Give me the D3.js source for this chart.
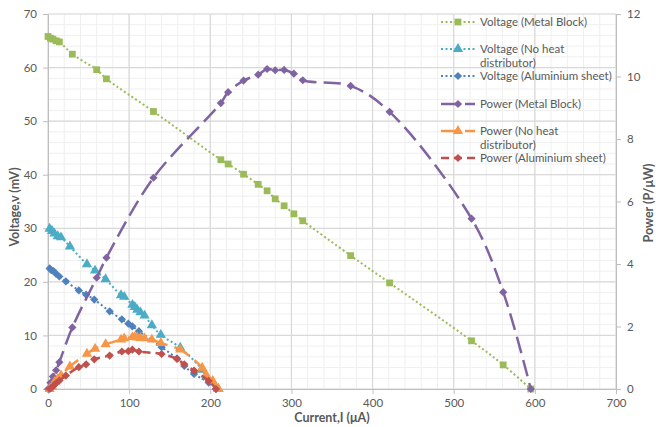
<!DOCTYPE html>
<html>
<head>
<meta charset="utf-8">
<script src="https://cdn.jsdelivr.net/npm/d3@7"></script>
<style>
  body { margin: 0; background: #fff; }
  svg text { font-family: Lato, "Open Sans", sans-serif; fill: #595959; }
</style>
</head>
<body>
<svg id="chart" width="656" height="427"></svg>
<script>
// Metal block
var metalI = [0, 3, 6, 10, 14, 30, 60, 72, 130, 213, 222, 241, 259, 270, 280, 291, 303, 314, 373, 421, 522, 561, 595];
var metalV = [65.8, 65.5, 65.3, 65.0, 64.8, 62.5, 59.6, 57.9, 51.8, 42.8, 42.0, 40.1, 38.2, 37.0, 35.5, 34.2, 32.7, 31.4, 24.9, 19.8, 9.0, 4.5, 0];
var metalP = [0, 0.2, 0.4, 0.6, 0.86, 1.97, 3.56, 4.2, 6.76, 9.15, 9.5, 9.87, 10.06, 10.24, 10.2, 10.21, 10.09, 9.88, 9.7, 8.87, 5.45, 3.1, 0];

// No heat distributor
var noHeatI = [2, 5, 8, 12, 16, 27, 48, 58, 71, 90, 94, 104, 107, 110, 114, 119, 128, 139, 163, 190, 195, 203, 210];
var noHeatV = [29.9, 29.5, 29.0, 28.5, 28.3, 26.6, 23.3, 22.1, 20.5, 17.5, 17.2, 15.7, 15.3, 14.8, 14.3, 13.7, 11.9, 10.1, 7.7, 3.6, 2.3, 1.3, 0];
var noHeatP = [0, 0.08, 0.22, 0.33, 0.43, 0.72, 1.13, 1.29, 1.43, 1.58, 1.62, 1.66, 1.66, 1.65, 1.63, 1.62, 1.58, 1.47, 1.26, 0.68, 0.45, 0.26, 0];

// Aluminium sheet
var aluI = [2, 4, 7, 10, 14, 22, 38, 47, 57, 76, 91, 99, 104, 112, 140, 159, 168, 180, 198, 207];
var aluV = [22.5, 22.2, 22.0, 21.5, 21.0, 20.1, 18.4, 17.6, 16.7, 14.5, 13.0, 12.2, 11.7, 10.8, 7.8, 5.7, 4.3, 2.8, 1.2, 0];
var aluP = [0, 0.04, 0.11, 0.19, 0.27, 0.43, 0.70, 0.79, 0.95, 1.07, 1.20, 1.21, 1.26, 1.20, 1.12, 0.96, 0.79, 0.59, 0.26, 0];

var xTicks = [0, 100, 200, 300, 400, 500, 600, 700];
var yLeftTicks = [0, 10, 20, 30, 40, 50, 60, 70];
var yRightTicks = [0, 2, 4, 6, 8, 10, 12];

var svg = d3.select("#chart");
var x = d3.scaleLinear().domain([0, 700]).range([48, 616]);
var yL = d3.scaleLinear().domain([0, 70]).range([389, 14]);
var yR = d3.scaleLinear().domain([0, 12]).range([389, 14]);

// gridlines
var grid = svg.append("g");
grid.selectAll(".vmin").data(d3.range(0, 701, 20)).enter().append("line")
  .attr("x1", function(d) { return x(d); }).attr("x2", function(d) { return x(d); })
  .attr("y1", yL(0)).attr("y2", yL(70))
  .attr("stroke", "#efefef").attr("stroke-width", 1);
grid.selectAll(".hmin").data(d3.range(0, 71, 2)).enter().append("line")
  .attr("y1", function(d) { return yL(d); }).attr("y2", function(d) { return yL(d); })
  .attr("x1", x(0)).attr("x2", x(700))
  .attr("stroke", "#efefef").attr("stroke-width", 1);
grid.selectAll(".vmaj").data(xTicks).enter().append("line")
  .attr("x1", function(d) { return x(d); }).attr("x2", function(d) { return x(d); })
  .attr("y1", yL(0)).attr("y2", yL(70))
  .attr("stroke", "#d9d9d9").attr("stroke-width", 1.2);
grid.selectAll(".hmaj").data(yLeftTicks).enter().append("line")
  .attr("y1", function(d) { return yL(d); }).attr("y2", function(d) { return yL(d); })
  .attr("x1", x(0)).attr("x2", x(700))
  .attr("stroke", "#d9d9d9").attr("stroke-width", 1.2);

// axes
function styleAxis(g) {
  g.selectAll("path").attr("stroke", "#bfbfbf");
  g.selectAll("line").attr("stroke", "#bfbfbf");
  g.selectAll("text").style("font-size", "11.5px").attr("fill", "#595959");
}
svg.append("g").attr("transform", "translate(0," + yL(0) + ")")
  .call(d3.axisBottom(x).tickValues(xTicks).tickSize(5).tickSizeOuter(0).tickPadding(5))
  .call(styleAxis);
svg.append("g").attr("transform", "translate(" + x(0) + ",0)")
  .call(d3.axisLeft(yL).tickValues(yLeftTicks).tickSize(5).tickSizeOuter(0).tickPadding(6))
  .call(styleAxis);
svg.append("g").attr("transform", "translate(" + x(700) + ",0)")
  .call(d3.axisRight(yR).tickValues(yRightTicks).tickSize(5).tickSizeOuter(0).tickPadding(6))
  .call(styleAxis);

// axis titles
svg.append("text").attr("x", 332).attr("y", 422).attr("text-anchor", "middle")
  .style("font-size", "12.5px").style("font-weight", "bold").text("Current,I (\u03bcA)");
svg.append("text").attr("transform", "translate(19,207) rotate(-90)").attr("text-anchor", "middle")
  .style("font-size", "12.5px").style("font-weight", "bold").text("Voltage,v (mV)");
svg.append("text").attr("transform", "translate(653,203) rotate(-90)").attr("text-anchor", "middle")
  .style("font-size", "12.5px").style("font-weight", "bold").text("Power (P/\u03bcW)");

var series = [
  { name: ["Voltage (Metal Block)"], I: metalI, v: metalV, y: yL, color: "#9bbb59", dash: "2,2.5", width: 2, marker: "square" },
  { name: ["Voltage (No heat", "distributor)"], I: noHeatI, v: noHeatV, y: yL, color: "#4bacc6", dash: "2,2.5", width: 2, marker: "triangle" },
  { name: ["Voltage (Aluminium sheet)"], I: aluI, v: aluV, y: yL, color: "#4f81bd", dash: "2,2.5", width: 2, marker: "diamond" },
  { name: ["Power (Metal Block)"], I: metalI, v: metalP, y: yR, color: "#8064a2", dash: "17,7", width: 2.5, marker: "diamond" },
  { name: ["Power (No heat", "distributor)"], I: noHeatI, v: noHeatP, y: yR, color: "#f79646", dash: "17,7", width: 2.5, marker: "triangle" },
  { name: ["Power (Aluminium sheet)"], I: aluI, v: aluP, y: yR, color: "#c0504d", dash: "8,5", width: 2.5, marker: "diamond" }
];

var symbols = {
  square: { gen: d3.symbol().type(d3.symbolSquare).size(46), rot: 0 },
  triangle: { gen: d3.symbol().type(d3.symbolTriangle).size(46), rot: 0 },
  diamond: { gen: d3.symbol().type(d3.symbolSquare).size(34), rot: 45 }
};

function markerTransform(px, py, m) {
  return "translate(" + px + "," + py + ") rotate(" + symbols[m].rot + ")";
}

var plot = svg.append("g");
series.forEach(function(s) {
  var pts = s.I.map(function(d, i) { return [d, s.v[i]]; });
  var line = d3.line()
    .x(function(d) { return x(d[0]); })
    .y(function(d) { return s.y(d[1]); })
    .curve(d3.curveCatmullRom.alpha(0.5));
  var g = plot.append("g");
  g.append("path").attr("d", line(pts))
    .attr("fill", "none").attr("stroke", s.color)
    .attr("stroke-width", s.width).attr("stroke-dasharray", s.dash);
  g.selectAll("path.m").data(pts).enter().append("path").attr("class", "m")
    .attr("d", symbols[s.marker].gen)
    .attr("transform", function(d) { return markerTransform(x(d[0]), s.y(d[1]), s.marker); })
    .attr("fill", s.color);
});

// legend
var legendY = [22, 49, 76, 104, 131, 158];
var legend = svg.append("g");
series.forEach(function(s, i) {
  var g = legend.append("g").attr("transform", "translate(0," + legendY[i] + ")");
  g.append("line").attr("x1", 441).attr("x2", 475).attr("y1", 0).attr("y2", 0)
    .attr("stroke", s.color).attr("stroke-width", s.width).attr("stroke-dasharray", s.dash);
  g.append("path").attr("d", symbols[s.marker].gen).attr("transform", markerTransform(458, 0, s.marker))
    .attr("fill", s.color);
  s.name.forEach(function(t, j) {
    g.append("text").attr("x", 480).attr("y", j * 14 + 4).style("font-size", "11.5px").text(t);
  });
});
</script>
</body>
</html>
